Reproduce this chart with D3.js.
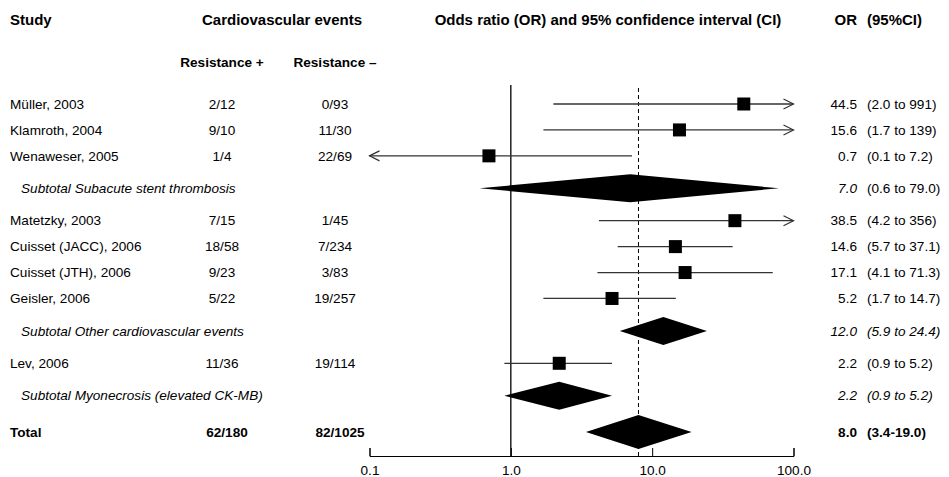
<!DOCTYPE html>
<html>
<head>
<meta charset="utf-8">
<script src="https://cdn.jsdelivr.net/npm/d3@7"></script>
<style>
  body { margin: 0; background: #fff; }
  svg { font-family: "Liberation Sans", Arial, sans-serif; }
  .axis text { font-family: "Liberation Sans", Arial, sans-serif; font-size: 13.6px; fill: #000; }
  .axis path, .axis line { stroke: #000; }
</style>
</head>
<body>
<div id="chart"></div>
<script>
// rows of the forest plot
const rowLabels = [
    "Müller, 2003", "Klamroth, 2004", "Wenaweser, 2005",
    "Subtotal Subacute stent thrombosis",
    "Matetzky, 2003", "Cuisset (JACC), 2006", "Cuisset (JTH), 2006", "Geisler, 2006",
    "Subtotal Other cardiovascular events",
    "Lev, 2006",
    "Subtotal Myonecrosis (elevated CK-MB)",
    "Total"
];
const rowTypes = ["study", "study", "study", "subtotal",
    "study", "study", "study", "study", "subtotal",
    "study", "subtotal", "total"];
const eventsPlus = ["2/12", "9/10", "1/4", "", "7/15", "18/58", "9/23", "5/22", "", "11/36", "", "62/180"];
const eventsMinus = ["0/93", "11/30", "22/69", "", "1/45", "7/234", "3/83", "19/257", "", "19/114", "", "82/1025"];
const orValues = [44.5, 15.6, 0.7, 7.0, 38.5, 14.6, 17.1, 5.2, 12.0, 2.2, 2.2, 8.0];
const ciLow = [2.0, 1.7, 0.1, 0.6, 4.2, 5.7, 4.1, 1.7, 5.9, 0.9, 0.9, 3.4];
const ciHigh = [991, 139, 7.2, 79.0, 356, 37.1, 71.3, 14.7, 24.4, 5.2, 5.2, 19.0];
const ciLabels = ["(2.0 to 991)", "(1.7 to 139)", "(0.1 to 7.2)", "(0.6 to 79.0)",
    "(4.2 to 356)", "(5.7 to 37.1)", "(4.1 to 71.3)", "(1.7 to 14.7)", "(5.9 to 24.4)",
    "(0.9 to 5.2)", "(0.9 to 5.2)", "(3.4-19.0)"];
const pooledOR = 8.0;
const tickValues = [0.1, 1, 10, 100];

const rows = rowLabels.map((label, i) => ({
    label, type: rowTypes[i], plus: eventsPlus[i], minus: eventsMinus[i],
    or: orValues[i], lo: ciLow[i], hi: ciHigh[i], ci: ciLabels[i], i
}));

const width = 949, height = 477;
const svg = d3.select("#chart").append("svg")
    .attr("width", width).attr("height", height);

// vertical layout: gaps grow around subtotal and total rows
let acc = 0;
rows.forEach((d, i) => {
    if (i > 0) {
        const prev = rows[i - 1];
        if (d.type === "total") acc += 1.4;
        else if (d.type === "subtotal" || prev.type === "subtotal") acc += 1.25;
        else acc += 1;
    }
    d.pos = acc;
});
const y = d3.scaleLinear().domain([0, acc]).range([104, 432]);
const x = d3.scaleLog().domain([0.1, 100]).range([369.5, 793.5]);
const axisY = 456;
const fmt = d3.format(".1f");

// headers
const head = svg.append("g").attr("font-weight", "bold").attr("fill", "#000");
head.append("text").attr("x", 10).attr("y", 25).attr("font-size", 15).text("Study");
head.append("text").attr("x", 282).attr("y", 25).attr("font-size", 15)
    .attr("text-anchor", "middle").text("Cardiovascular events");
head.append("text").attr("x", 608).attr("y", 25).attr("font-size", 15)
    .attr("text-anchor", "middle").text("Odds ratio (OR) and 95% confidence interval (CI)");
head.append("text").attr("x", 857).attr("y", 25).attr("font-size", 15)
    .attr("text-anchor", "end").text("OR");
head.append("text").attr("x", 867).attr("y", 25).attr("font-size", 15).text("(95%CI)");
head.append("text").attr("x", 222).attr("y", 67).attr("font-size", 13.6)
    .attr("text-anchor", "middle").text("Resistance +");
head.append("text").attr("x", 335).attr("y", 67).attr("font-size", 13.6)
    .attr("text-anchor", "middle").text("Resistance –");

// reference lines
svg.append("line")
    .attr("x1", x(1)).attr("x2", x(1)).attr("y1", 85).attr("y2", axisY)
    .attr("stroke", "#000").attr("stroke-width", 1.3);
svg.append("line")
    .attr("x1", x(pooledOR)).attr("x2", x(pooledOR)).attr("y1", 88).attr("y2", axisY)
    .attr("stroke", "#000").attr("stroke-width", 1).attr("stroke-dasharray", "4,3");

// axis
svg.append("g").attr("class", "axis")
    .attr("transform", `translate(0,${axisY})`)
    .call(d3.axisBottom(x).tickValues(tickValues).tickFormat(fmt)
        .tickSize(-8).tickSizeOuter(-8).tickPadding(9));

// text rows
const rowG = svg.append("g").selectAll("g").data(rows).enter().append("g")
    .attr("transform", d => `translate(0,${y(d.pos)})`)
    .attr("font-size", 13.6)
    .attr("fill", "#000")
    .attr("font-weight", d => d.type === "total" ? "bold" : null);

rowG.append("text")
    .attr("x", d => d.type === "subtotal" ? 21 : 10)
    .attr("dy", "0.35em")
    .attr("font-style", d => d.type === "subtotal" ? "italic" : null)
    .text(d => d.label);
rowG.append("text")
    .attr("x", d => d.type === "total" ? 227 : 222)
    .attr("dy", "0.35em").attr("text-anchor", "middle")
    .text(d => d.plus);
rowG.append("text")
    .attr("x", d => d.type === "total" ? 340 : 335)
    .attr("dy", "0.35em").attr("text-anchor", "middle")
    .text(d => d.minus);
rowG.append("text")
    .attr("x", 857).attr("dy", "0.35em").attr("text-anchor", "end")
    .attr("font-style", d => d.type === "subtotal" ? "italic" : null)
    .text(d => fmt(d.or));
rowG.append("text")
    .attr("x", 867).attr("dy", "0.35em")
    .attr("font-style", d => d.type === "subtotal" && d.i !== 3 ? "italic" : null)
    .text(d => d.ci);

// study estimates: CI lines, arrows, squares
const [dMin, dMax] = x.domain();
const studies = rows.filter(d => d.type === "study");
const sg = svg.append("g").selectAll("g").data(studies).enter().append("g")
    .attr("transform", d => `translate(0,${y(d.pos)})`);

sg.append("line")
    .attr("x1", d => x(Math.max(d.lo, dMin)))
    .attr("x2", d => x(Math.min(d.hi, dMax)))
    .attr("stroke", "#333").attr("stroke-width", 1.3);

sg.filter(d => d.hi > dMax).append("path")
    .attr("d", () => { const t = x(dMax); return `M${t - 10},-5L${t},0L${t - 10},5`; })
    .attr("fill", "none").attr("stroke", "#333").attr("stroke-width", 1.2);
sg.filter(d => d.lo <= dMin).append("path")
    .attr("d", () => { const t = x(dMin); return `M${t + 10},-5L${t},0L${t + 10},5`; })
    .attr("fill", "none").attr("stroke", "#333").attr("stroke-width", 1.2);

sg.append("rect")
    .attr("x", d => x(d.or) - 6.5).attr("y", -6.5)
    .attr("width", 13).attr("height", 13)
    .attr("fill", "#000");

// pooled estimates: diamonds
const pooled = rows.filter(d => d.type !== "study");
svg.append("g").selectAll("path").data(pooled).enter().append("path")
    .attr("d", d => {
        const cy = y(d.pos), h = d.type === "total" ? 17 : 14;
        return `M${x(d.lo)},${cy}L${x(d.or)},${cy - h}L${x(d.hi)},${cy}L${x(d.or)},${cy + h}Z`;
    })
    .attr("fill", "#000");
</script>
</body>
</html>
